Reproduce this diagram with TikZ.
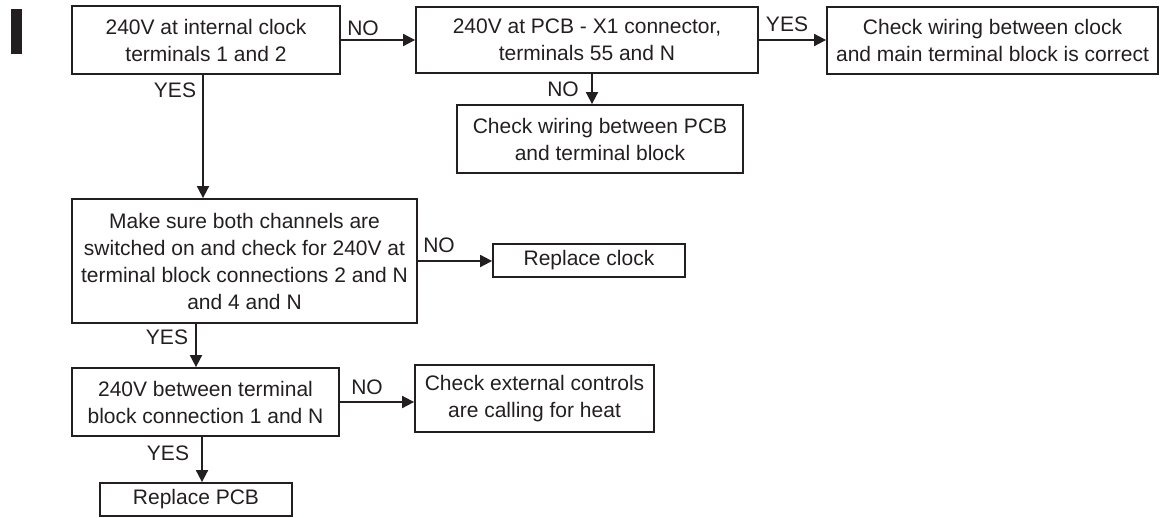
\documentclass[tikz,border=0pt]{standalone}
\usepackage{fontspec}
\setmainfont{Liberation Sans}
\usetikzlibrary{arrows.meta}
\definecolor{ink}{HTML}{231F20}
\begin{document}
\begin{tikzpicture}[x=1pt,y=-1pt,
  every node/.style={font=\fontsize{21}{27}\selectfont, text=ink},
  box/.style={draw=ink, line width=1.8pt, align=center, inner sep=0pt, anchor=center},
  lbl/.style={inner sep=0pt, anchor=center},
  arr/.style={draw=ink, line width=1.8pt, -{Triangle[length=12pt,width=12pt]}}]
\useasboundingbox (0,0) rectangle (1162,517);
\fill[ink] (11,9) rectangle (22,54);

\node[box, minimum width=268pt, minimum height=68pt] (A) at (206,40) {240V at internal clock\\terminals 1 and 2};
\node[box, minimum width=342pt, minimum height=66pt] (B) at (587,40) {240V at PCB - X1 connector,\\terminals 55 and N};
\node[box, minimum width=331pt, minimum height=67pt] (D) at (992.5,40.5) {Check wiring between clock\\and main terminal block is correct};
\node[box, minimum width=286pt, minimum height=68pt] (E) at (600,139) {Check wiring between PCB\\and terminal block};
\node[box, minimum width=345pt, minimum height=124pt] (C) at (244.5,261) {Make sure both channels are\\switched on and check for 240V at\\terminal block connections 2 and N\\and 4 and N};
\node[box, minimum width=192pt, minimum height=33pt] (R) at (589,260.5) {Replace clock};
\node[box, minimum width=267pt, minimum height=68pt] (F) at (205.5,402) {240V between terminal\\block connection 1 and N};
\node[box, minimum width=239pt, minimum height=67pt] (H) at (534.5,398.5) {Check external controls\\are calling for heat};
\node[box, minimum width=192pt, minimum height=33pt] (G) at (196,499.5) {Replace PCB};

\coordinate (bE) at (592,73);
\draw[arr] (A.east) -- (A.east -| B.west);
\draw[arr] (B.east) -- (B.east -| D.west);
\draw[arr] (bE) -- (bE |- E.north);
\draw[arr] ([xshift=-3pt]A.south) -- ([xshift=-3pt]A.south |- C.north);
\draw[arr] (C.east) -- (C.east -| R.west);
\draw[arr] ([xshift=-48.5pt]C.south) -- ([xshift=-48.5pt]C.south |- F.north);
\draw[arr] (F.east) -- (F.east -| H.west);
\draw[arr] ([xshift=-3.5pt]F.south) -- ([xshift=-3.5pt]F.south |- G.north);

\node[lbl] (l1) at (363,28) {NO};
\node[lbl] (l2) at (175,90) {YES};
\node[lbl] (l3) at (787,24) {YES};
\node[lbl] (l4) at (563,89) {NO};
\node[lbl] (l5) at (439,245) {NO};
\node[lbl] (l6) at (167,337) {YES};
\node[lbl] (l7) at (367,387) {NO};
\node[lbl] (l8) at (168,453) {YES};
\end{tikzpicture}
\end{document}
